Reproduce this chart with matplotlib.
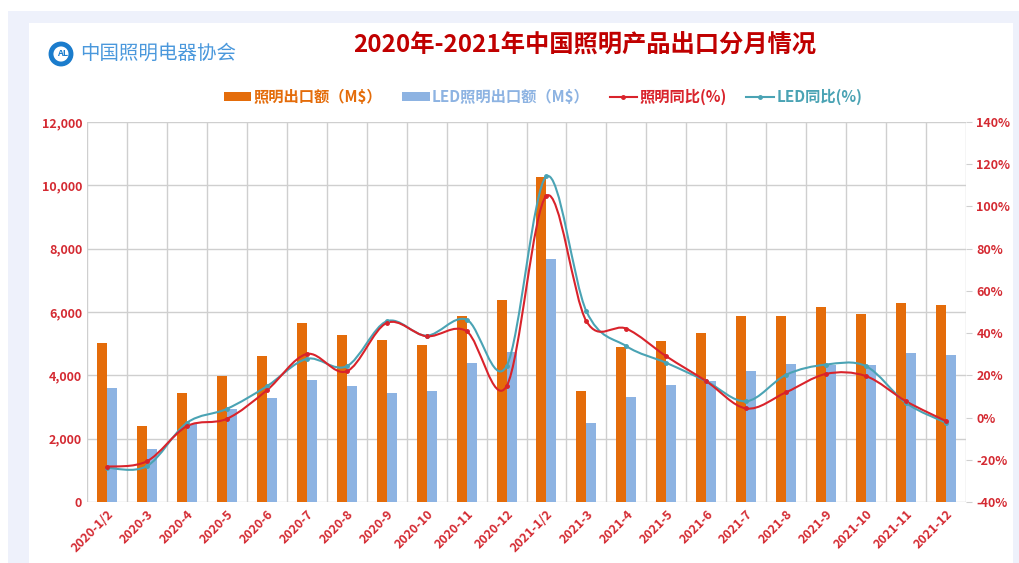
import numpy as np
import matplotlib
matplotlib.use('Agg')
import matplotlib.pyplot as plt
from matplotlib.path import Path
from matplotlib.patches import PathPatch, Rectangle, Ellipse, Patch
from matplotlib.lines import Line2D

plt.rcParams['font.family'] = ['Noto Sans CJK SC', 'DejaVu Sans']

months = ['2020-1/2', '2020-3', '2020-4', '2020-5', '2020-6', '2020-7', '2020-8',
          '2020-9', '2020-10', '2020-11', '2020-12', '2021-1/2', '2021-3', '2021-4',
          '2021-5', '2021-6', '2021-7', '2021-8', '2021-9', '2021-10', '2021-11', '2021-12']
# export value, M$
light_exp = [5020, 2410, 3440, 3970, 4600, 5650, 5260, 5120, 4950, 5880, 6370,
             10260, 3500, 4880, 5100, 5350, 5870, 5880, 6150, 5930, 6300, 6230]
led_exp = [3610, 1660, 2450, 2940, 3300, 3860, 3650, 3440, 3500, 4400, 4750,
           7680, 2490, 3320, 3700, 3820, 4150, 4360, 4320, 4320, 4700, 4640]
# year-on-year, %
light_yoy = [-23.3, -20.7, -4.1, -0.6, 12.9, 30.1, 21.9, 44.8, 38.5, 40.9, 14.8,
             105.0, 45.6, 42.1, 29.0, 17.2, 4.3, 12.0, 20.7, 19.6, 7.7, -1.7]
led_yoy = [-23.8, -23.0, -2.5, 4.1, 14.8, 27.8, 24.3, 45.6, 38.8, 46.4, 24.3,
           114.2, 50.3, 33.8, 25.9, 17.2, 7.7, 20.3, 25.1, 24.3, 6.9, -2.5]

C_OR = '#e46c0a'
C_BL = '#8db3e2'
C_RED = '#d9232b'
C_TEAL = '#4aa3b4'
C_TXT = '#d42a32'


def smooth_path(xs, ys):
    # bezier segments like Excel's smoothed line
    pts = np.column_stack([xs, ys]).astype(float)
    n = len(pts)
    verts = [pts[0]]
    codes = [Path.MOVETO]
    for i in range(n - 1):
        p0 = pts[i - 1] if i > 0 else pts[i]
        p1 = pts[i]
        p2 = pts[i + 1]
        p3 = pts[i + 2] if i + 2 < n else pts[i + 1]
        c1 = p1 + (p2 - p0) / 6.0
        c2 = p2 - (p3 - p1) / 6.0
        verts += [c1, c2, p2]
        codes += [Path.CURVE4] * 3
    return Path(verts, codes)


fig = plt.figure(figsize=(10.2, 5.63), dpi=100)
fig.patch.set_facecolor('white')
W, H = 1020, 563
fig.patches.append(Rectangle((8 / W, 0), 1 - 8 / W, 1 - 11 / H, transform=fig.transFigure,
                             facecolor='#eef1fb', edgecolor='none', zorder=-3))
fig.patches.append(Rectangle((29 / W, 0), (1013 - 29) / W, 1 - 23 / H, transform=fig.transFigure,
                             facecolor='white', edgecolor='none', zorder=-2))

ax = fig.add_axes([87 / W, 61 / H, 879 / W, 380 / H])
ax.set_facecolor('none')
x = np.arange(len(months))
w = 0.25
ax.bar(x - w / 2, light_exp, w, color=C_OR, zorder=2)
ax.bar(x + w / 2, led_exp, w, color=C_BL, zorder=2)
ax.set_xlim(-0.5, len(months) - 0.5)
ax.set_ylim(0, 12000)
ax.set_yticks(np.arange(0, 12001, 2000))
ax.set_yticklabels([f'{v:,}' for v in range(0, 12001, 2000)])
ax.set_xticks(x)
ax.set_xticklabels(months, rotation=45, ha='right', rotation_mode='anchor')
for b in np.arange(-0.5, len(months), 1.0):
    ax.axvline(b, color='#cfcfcf', lw=1, zorder=1)
ax.yaxis.grid(True, color='#cfcfcf', lw=1, zorder=1)
ax.set_axisbelow(True)
for s in ax.spines.values():
    s.set_visible(False)
ax.tick_params(axis='both', length=0, colors=C_TXT, labelsize=9)
ax.tick_params(axis='x', pad=4)
for t in ax.get_xticklabels() + ax.get_yticklabels():
    t.set_fontweight('bold')

ax2 = ax.twinx()
ax2.set_ylim(-40, 140)
ax2.set_yticks(np.arange(-40, 141, 20))
ax2.set_yticklabels([f'{v}%' for v in range(-40, 141, 20)])
for s in ax2.spines.values():
    s.set_visible(False)
ax2.tick_params(axis='y', length=4, color='#cfcfcf', colors=C_TXT, labelsize=9)
for t in ax2.get_yticklabels():
    t.set_fontweight('bold')

ax2.add_patch(PathPatch(smooth_path(x, led_yoy), facecolor='none', edgecolor=C_TEAL, lw=1.5, zorder=3))
ax2.plot(x, led_yoy, ls='none', marker='o', ms=2.5, color=C_TEAL, zorder=4)
ax2.add_patch(PathPatch(smooth_path(x, light_yoy), facecolor='none', edgecolor=C_RED, lw=1.5, zorder=3))
ax2.plot(x, light_yoy, ls='none', marker='o', ms=2.5, color=C_RED, zorder=4)

handles = [Patch(facecolor=C_OR), Patch(facecolor=C_BL),
           Line2D([], [], color=C_RED, lw=1.5, marker='o', ms=2.5),
           Line2D([], [], color=C_TEAL, lw=1.5, marker='o', ms=2.5)]
labels = ['照明出口额（M$）', 'LED照明出口额（M$）', '照明同比(%)', 'LED同比(%)']
leg = fig.legend(handles, labels, loc='center', bbox_to_anchor=(543 / W, 1 - 97 / H), ncol=4,
                 frameon=False, fontsize=11, handlelength=1.8, handleheight=0.45,
                 columnspacing=1.3, handletextpad=0.15,
                 labelcolor=[C_OR, C_BL, C_RED, C_TEAL])
for t in leg.get_texts():
    t.set_fontweight('bold')

fig.text(585 / W, 1 - 46 / H, '2020年-2021年中国照明产品出口分月情况', ha='center', va='center',
         fontsize=17.5, fontweight='bold', color='#c00000')

# association logo
fig.patches.append(Ellipse((61 / W, 1 - 54 / H), 20 / W, 20 / H, transform=fig.transFigure,
                           facecolor='none', edgecolor='#1b7ccc', lw=3.5))
fig.text(64 / W, 1 - 54 / H, 'ALI', ha='center', va='center', fontsize=6.5,
         fontweight='bold', color='#1b7ccc')
fig.text(80 / W, 1 - 53 / H, '中国照明电器协会', ha='left', va='center', fontsize=14,
         color='#2a86d6', alpha=0.85)

fig.savefig('out.png', dpi=100)
